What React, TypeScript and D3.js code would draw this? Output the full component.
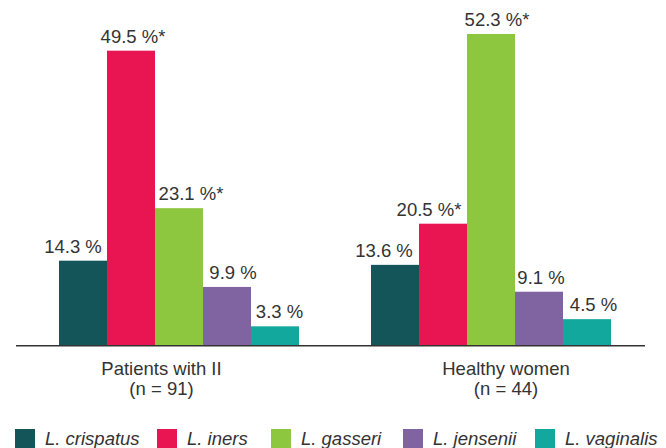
import React from "react";
import * as d3 from "d3";

const groups = ["Patients with II", "Healthy women"];
const groupSub = ["(n = 91)", "(n = 44)"];
const species = ["L. crispatus", "L. iners", "L. gasseri", "L. jensenii", "L. vaginalis"];
const colors = ["#14555a", "#e91553", "#8dc63f", "#8063a1", "#13a89e"];
const patientsValues = [14.3, 49.5, 23.1, 9.9, 3.3];
const healthyValues = [13.6, 20.5, 52.3, 9.1, 4.5];
const patientsStar = [false, true, true, false, false];
const healthyStar = [false, true, true, false, false];

const seriesByGroup = [patientsValues, healthyValues];
const starsByGroup = [patientsStar, healthyStar];

// layout constants
const W = 666;
const H = 448;
const baseY = 346;
const labelDx = [
  [-10, 2, 12, 6, 4.5],
  [-11, -14, 6, 2, 6.5],
];
const groupLabelDx = [-17.5, 15];
const legendSquareX = [15, 157, 271, 403, 535];
const FONT = "'Liberation Sans', Arial, Helvetica, sans-serif";
const TEXT = "#333333";
const FS = 18.5;

export default function App() {
  const x0 = d3.scaleBand<string>().domain(groups).range([23, 647]).paddingInner(0).paddingOuter(0);
  const x1 = d3
    .scaleBand<string>()
    .domain(species)
    .range([0, x0.bandwidth()])
    .paddingInner(0)
    .paddingOuter(0.75);
  const y = d3.scaleLinear().domain([0, 55]).range([baseY, baseY - 55 * 5.966]);

  return (
    <svg
      width={W}
      height={H}
      style={{ position: "absolute", left: 0, top: 0, display: "block" }}
      fontFamily={FONT}
    >
      {groups.map((g, gi) => {
        const gx = x0(g)!;
        return (
          <g key={g}>
            {species.map((s, si) => {
              const v = seriesByGroup[gi][si];
              const bx = gx + x1(s)!;
              const top = y(v);
              return (
                <g key={s}>
                  <rect x={bx} y={top} width={x1.bandwidth()} height={baseY - top} fill={colors[si]} />
                  <text
                    x={bx + x1.bandwidth() / 2 + labelDx[gi][si]}
                    y={top - 8}
                    textAnchor="middle"
                    fontSize={FS}
                    fill={TEXT}
                  >
                    {d3.format(".1f")(v) + " %" + (starsByGroup[gi][si] ? "*" : "")}
                  </text>
                </g>
              );
            })}
            <text
              x={gx + x0.bandwidth() / 2 + groupLabelDx[gi]}
              y={375}
              textAnchor="middle"
              fontSize={FS}
              fill={TEXT}
            >
              {g}
            </text>
            <text
              x={gx + x0.bandwidth() / 2 + groupLabelDx[gi]}
              y={395}
              textAnchor="middle"
              fontSize={FS}
              fill={TEXT}
            >
              {groupSub[gi]}
            </text>
          </g>
        );
      })}
      <line x1={16} x2={645} y1={baseY - 0.25} y2={baseY - 0.25} stroke="#333" strokeWidth={1.5} />
      {species.map((s, si) => (
        <g key={s}>
          <rect x={legendSquareX[si]} y={429} width={20} height={19} fill={colors[si]} />
          <text
            x={legendSquareX[si] + 30}
            y={445}
            fontSize={FS}
            fontStyle="italic"
            fill={TEXT}
          >
            {s}
          </text>
        </g>
      ))}
    </svg>
  );
}
